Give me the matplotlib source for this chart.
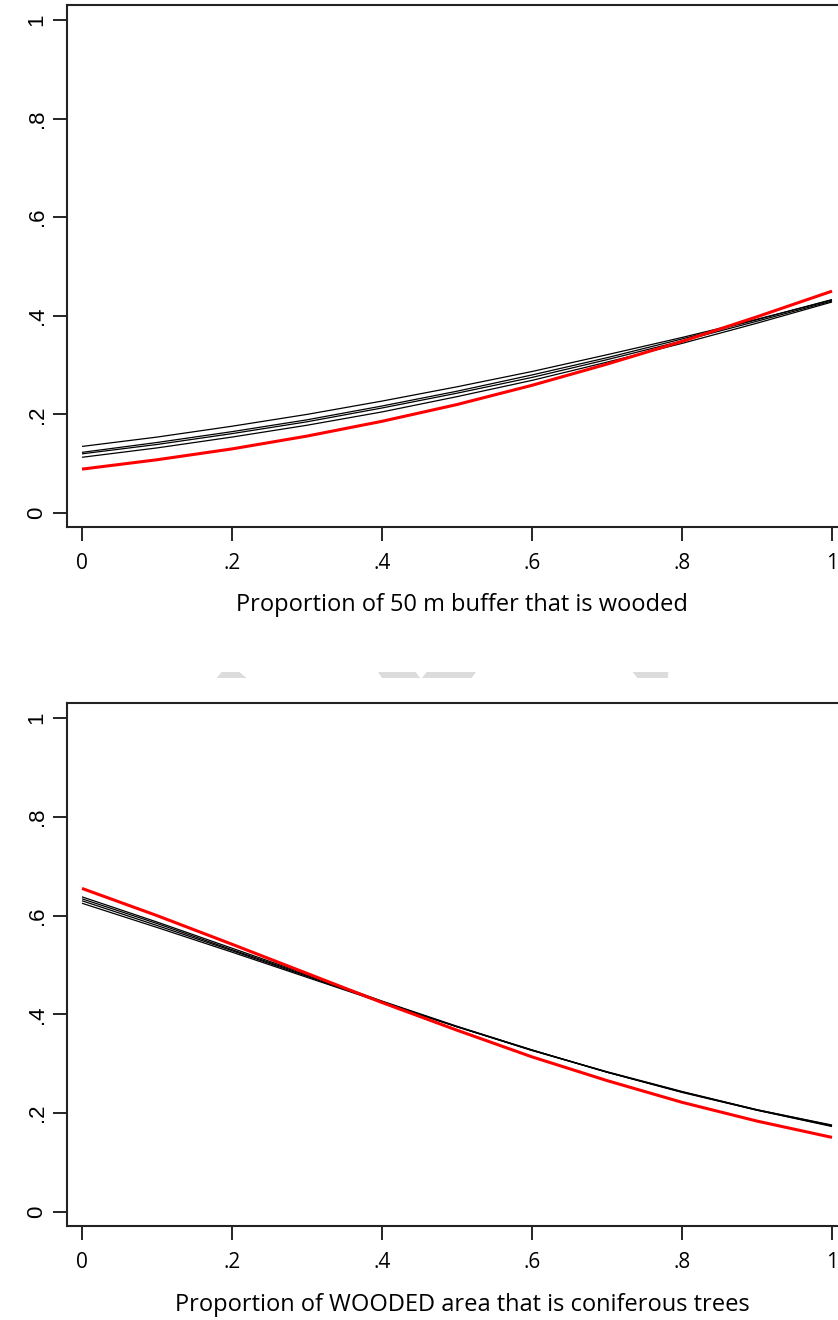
import matplotlib
matplotlib.use("Agg")
import matplotlib.pyplot as plt
from matplotlib.patches import Polygon

# ---- data ----
x_vals = [0.0, 0.1, 0.2, 0.3, 0.4, 0.5, 0.6, 0.7, 0.8, 0.9, 1.0]

top_black_1 = [0.135, 0.154, 0.176, 0.200, 0.227, 0.256, 0.287, 0.321, 0.356, 0.393, 0.432]
top_black_2 = [0.123, 0.143, 0.165, 0.189, 0.217, 0.247, 0.280, 0.315, 0.353, 0.392, 0.433]
top_black_3 = [0.120, 0.139, 0.161, 0.185, 0.213, 0.243, 0.275, 0.311, 0.349, 0.389, 0.430]
top_black_4 = [0.113, 0.132, 0.154, 0.178, 0.205, 0.236, 0.269, 0.306, 0.344, 0.385, 0.428]
top_red = [0.089, 0.108, 0.130, 0.156, 0.186, 0.220, 0.259, 0.302, 0.348, 0.398, 0.450]

bot_black_1 = [0.638, 0.587, 0.534, 0.481, 0.427, 0.376, 0.328, 0.283, 0.242, 0.206, 0.173]
bot_black_2 = [0.634, 0.584, 0.531, 0.479, 0.426, 0.375, 0.328, 0.283, 0.243, 0.206, 0.174]
bot_black_3 = [0.630, 0.580, 0.529, 0.477, 0.425, 0.375, 0.327, 0.283, 0.243, 0.207, 0.175]
bot_black_4 = [0.625, 0.576, 0.526, 0.475, 0.424, 0.375, 0.327, 0.284, 0.244, 0.207, 0.176]
bot_red = [0.655, 0.600, 0.542, 0.483, 0.424, 0.368, 0.314, 0.266, 0.222, 0.184, 0.151]

x_ticks = [0, 0.2, 0.4, 0.6, 0.8, 1.0]
x_ticklabels = ["0", ".2", ".4", ".6", ".8", "1"]
y_ticks = [0, 0.2, 0.4, 0.6, 0.8, 1.0]
y_ticklabels = ["0", ".2", ".4", ".6", ".8", "1"]

top_xlabel = "Proportion of 50 m buffer that is wooded"
bot_xlabel = "Proportion of WOODED area that is coniferous trees"

W, H = 838, 1320
fig = plt.figure(figsize=(W / 100, H / 100), dpi=100)
fig.patch.set_facecolor("white")

def px_axes(left, top, right, bottom):
    return [left / W, 1 - bottom / H, (right - left) / W, (bottom - top) / H]

panels = [
    (px_axes(67, 5, 847, 527), [top_black_1, top_black_2, top_black_3, top_black_4], top_red, top_xlabel, 605),
    (px_axes(67, 703, 847, 1226), [bot_black_1, bot_black_2, bot_black_3, bot_black_4], bot_red, bot_xlabel, 1305),
]

for rect, blacks, red, xlabel, label_y in panels:
    ax = fig.add_axes(rect)
    for s in blacks:
        ax.plot(x_vals, s, color="black", lw=0.9, solid_capstyle="butt")
    ax.plot(x_vals, red, color="#ff0000", lw=2.2, solid_capstyle="butt")
    ax.set_xlim(-0.02, 1.02)
    ax.set_ylim(-0.0284, 1.0304)
    ax.set_xticks(x_ticks)
    ax.set_xticklabels(x_ticklabels, fontfamily="Open Sans", fontsize=15)
    ax.set_yticks(y_ticks)
    ax.set_yticklabels(y_ticklabels, rotation=90, va="center", fontfamily="Liberation Sans", fontsize=16)
    ax.tick_params(axis="x", direction="out", length=10, width=1.2, pad=9, colors="black")
    ax.tick_params(axis="y", direction="out", length=10, width=1.2, pad=4, colors="black")
    for side in ["left", "bottom", "top", "right"]:
        ax.spines[side].set_linewidth(1.5)
        ax.spines[side].set_color("#222222")
    fig.text(462 / W, 1 - label_y / H, xlabel, ha="center", va="center",
             fontfamily="Open Sans", fontsize=17)

# faint grey watermark fragments between panels
wm = [
    [(221.7, 672), (239.3, 672), (246.7, 678), (216.7, 678)],
    [(378, 672), (415.7, 672), (420, 678), (382, 678)],
    [(426.7, 672), (476, 672), (471.7, 678), (422, 678)],
    [(632.7, 672), (668.3, 672), (668, 678), (637.3, 678)],
]
for poly in wm:
    pts = [(px / W, 1 - py / H) for px, py in poly]
    fig.patches.append(Polygon(pts, closed=True, transform=fig.transFigure,
                               facecolor="#dcdcdc", edgecolor="none"))

fig.savefig("out.png", dpi=100)
